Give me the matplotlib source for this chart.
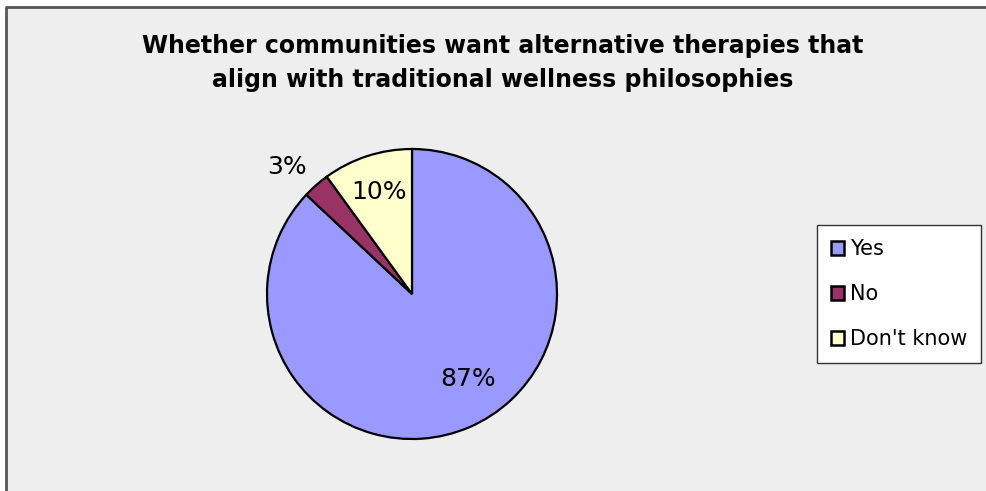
import numpy as np
import matplotlib
matplotlib.use('Agg')
import matplotlib.pyplot as plt
from matplotlib.patches import Rectangle, Patch
from matplotlib.lines import Line2D

# --- Data ---
TITLE = 'Whether communities want alternative therapies that\nalign with traditional wellness philosophies'
categories = ['Yes', 'No', "Don't know"]
values = [87, 3, 10]
colors = ['#9999FF', '#993366', '#FFFFCC']

# label placement (fraction of radius, extra angle in degrees)
label_r = [0.70, 1.23, 0.74]
label_shift = [10, 3, 0]

W, H = 987, 491
fig = plt.figure(figsize=(W / 100, H / 100), dpi=100)
fig.patch.set_facecolor('white')

# chart area background; only top and left border edges are visible
bx, by = 6 / W, 1 - 7 / H
fig.add_artist(Rectangle((bx, 0), 1.1 - bx, by, transform=fig.transFigure,
                         facecolor='#EEEEEE', edgecolor='none', zorder=0))
fig.add_artist(Line2D([bx, bx, 1.1], [0, by, by], transform=fig.transFigure,
                      color='#555555', linewidth=2, zorder=0.5))

ax = fig.add_axes([0, 0, 1, 1])
ax.patch.set_visible(False)

cx, cy, rad = 412, H - 294, 145
wedges, _ = ax.pie(values, colors=colors, startangle=90, counterclock=False,
                   center=(cx, cy), radius=rad, frame=True,
                   wedgeprops=dict(edgecolor='black', linewidth=1.6))
ax.set_xlim(0, W)
ax.set_ylim(0, H)
ax.set_aspect('equal')
ax.axis('off')

for w, v, r, s in zip(wedges, values, label_r, label_shift):
    mid = np.deg2rad((w.theta1 + w.theta2) / 2 + s)
    ax.text(cx + r * rad * np.cos(mid), cy + r * rad * np.sin(mid), f'{v}%',
            ha='center', va='center', fontsize=18, color='black')

fig.text(0.509, 1 - 63 / H, TITLE, ha='center', va='center', fontsize=17,
         fontweight='bold', linespacing=1.55)

handles = [Patch(facecolor=c, edgecolor='black', linewidth=1.8) for c in colors]
leg = fig.legend(handles, categories, loc='center left',
                 bbox_to_anchor=(817 / W, 1 - 294 / H), fontsize=15,
                 frameon=True, fancybox=False, edgecolor='#333333',
                 framealpha=1,
                 handlelength=0.65, handleheight=0.65, handletextpad=0.3,
                 labelspacing=1.2, borderpad=0.65, borderaxespad=0)
leg.get_frame().set_linewidth(1.0)
leg.get_frame().set_facecolor('white')

fig.savefig('out.png', dpi=100)
